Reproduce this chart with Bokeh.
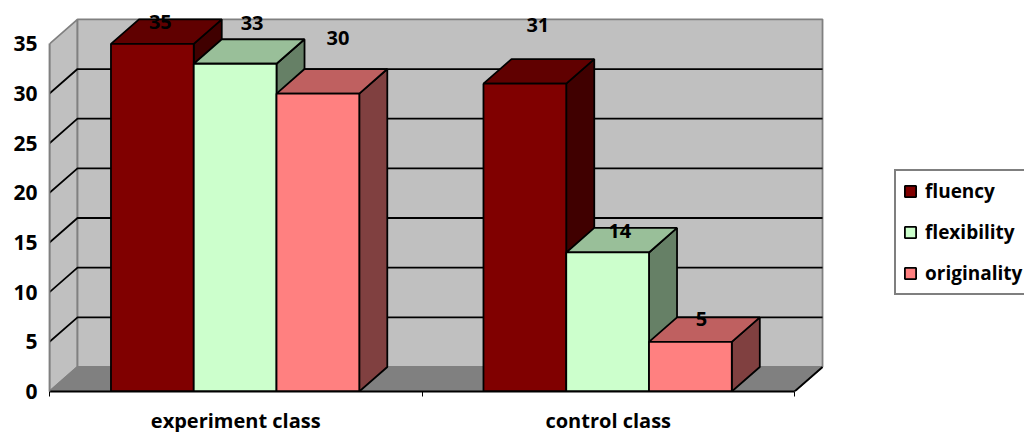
from bokeh.plotting import figure
from bokeh.models import Range1d, LinearAxis, FixedTicker, Legend, LegendItem, ColumnDataSource
from bokeh.core.properties import value
from bokeh.embed import file_html
from bokeh.resources import INLINE

categories = ["experiment class", "control class"]
series = ["fluency", "flexibility", "originality"]
fluency = [35, 31]
flexibility = [33, 14]
originality = [30, 5]
y_ticks = [0, 5, 10, 15, 20, 25, 30, 35]

front_colors = ["#800000", "#CCFFCC", "#FF8080"]
top_colors = ["#600000", "#99BF99", "#BF6060"]
side_colors = ["#400000", "#668066", "#804040"]

FONT = "Open Sans"
BAR_W = 0.2222
GAP = 0.165
DX = 0.0752
DY = 2.47
YMAX = 35
EDGE = 1.8
GREY = "#808080"
# pixel nudges of the data labels, per series then category
label_dx = [[8, 13], [17, 12], [20, 11]]
label_dy = [[22, 59], [41, 21], [56, 23]]

p = figure(width=1024, height=432, output_backend="svg", toolbar_location=None,
           frame_width=975, frame_height=391,
           x_range=Range1d(0, 2.6174), y_range=Range1d(0, 39.37),
           x_axis_location=None, y_axis_location=None,
           min_border_left=49, min_border_bottom=41, min_border_top=0, min_border_right=0,
           outline_line_color=None, background_fill_color="white")
p.grid.visible = False

# walls and floor
p.patch([0, DX, DX, 0], [0, DY, YMAX + DY, YMAX], fill_color="#C0C0C0", line_color=GREY, line_width=EDGE)
p.patch([DX, 2 + DX, 2 + DX, DX], [DY, DY, YMAX + DY, YMAX + DY], fill_color="#C0C0C0", line_color=GREY, line_width=EDGE)
p.patch([0, 2, 2 + DX, DX], [0, 0, DY, DY], fill_color=GREY, line_color=GREY, line_width=EDGE)
p.line([2, 2 + DX], [0, DY], line_color="black", line_width=EDGE)

# gridlines
for t in y_ticks[1:-1]:
    p.line([0, DX, 2 + DX], [t, t + DY, t + DY], line_color="black", line_width=EDGE)

# bars
legend_items = []
for s, vals in enumerate([fluency, flexibility, originality]):
    front = None
    for c, v in enumerate(vals):
        x0 = c + GAP + s * BAR_W
        x1 = x0 + BAR_W
        p.patch([x1, x1 + DX, x1 + DX, x1], [0, DY, v + DY, v], fill_color=side_colors[s], line_color="black", line_width=EDGE)
        p.patch([x0, x1, x1 + DX, x0 + DX], [v, v, v + DY, v + DY], fill_color=top_colors[s], line_color="black", line_width=EDGE)
        r = p.quad(left=x0, right=x1, bottom=0, top=v, fill_color=front_colors[s], line_color="black", line_width=EDGE)
        if front is None:
            front = r
    legend_items.append(LegendItem(label=series[s], renderers=[front]))

# data labels (drawn above every bar)
for s, vals in enumerate([fluency, flexibility, originality]):
    src = ColumnDataSource(dict(
        x=[c + GAP + (s + 0.5) * BAR_W for c in range(2)], y=vals,
        t=[str(v) for v in vals], dx=label_dx[s], dy=[-d for d in label_dy[s]]))
    p.text("x", "y", text="t", source=src, x_offset="dx", y_offset="dy",
           text_align="center", text_baseline="middle", text_font=value(FONT),
           text_font_style="bold", text_font_size="20px", text_color="black")

# axes
ya = LinearAxis(ticker=FixedTicker(ticks=y_ticks), bounds=(0, YMAX),
                axis_line_color=GREY, axis_line_width=EDGE,
                major_tick_out=0, major_tick_in=0, minor_tick_out=0, minor_tick_in=0,
                major_label_standoff=12, major_label_text_font=FONT,
                major_label_text_font_style="bold", major_label_text_font_size="21px",
                major_label_text_color="black")
p.add_layout(ya, "left")
xa = LinearAxis(ticker=FixedTicker(ticks=[0.5, 1.5], minor_ticks=[0, 1, 2]), bounds=(0, 2),
                major_label_overrides={0.5: categories[0], 1.5: categories[1]},
                axis_line_color="black", axis_line_width=EDGE,
                major_tick_out=0, major_tick_in=0, minor_tick_out=5, minor_tick_in=0,
                minor_tick_line_color="black", minor_tick_line_width=1,
                major_label_standoff=10, major_label_text_font=FONT,
                major_label_text_font_style="bold", major_label_text_font_size="20px",
                major_label_text_color="black")
p.add_layout(xa, "below")

legend = Legend(items=legend_items, location=(845, 96), orientation="vertical",
                glyph_width=14, glyph_height=14, label_standoff=8, spacing=15,
                label_height=20, label_width=115, padding=7, margin=0,
                label_text_font=FONT, label_text_font_style="bold", label_text_font_size="19px",
                label_text_color="black", border_line_color="black", border_line_width=2,
                background_fill_color="white", background_fill_alpha=1.0)
p.add_layout(legend, "center")

open("out.html", "w").write(file_html(p, INLINE))
